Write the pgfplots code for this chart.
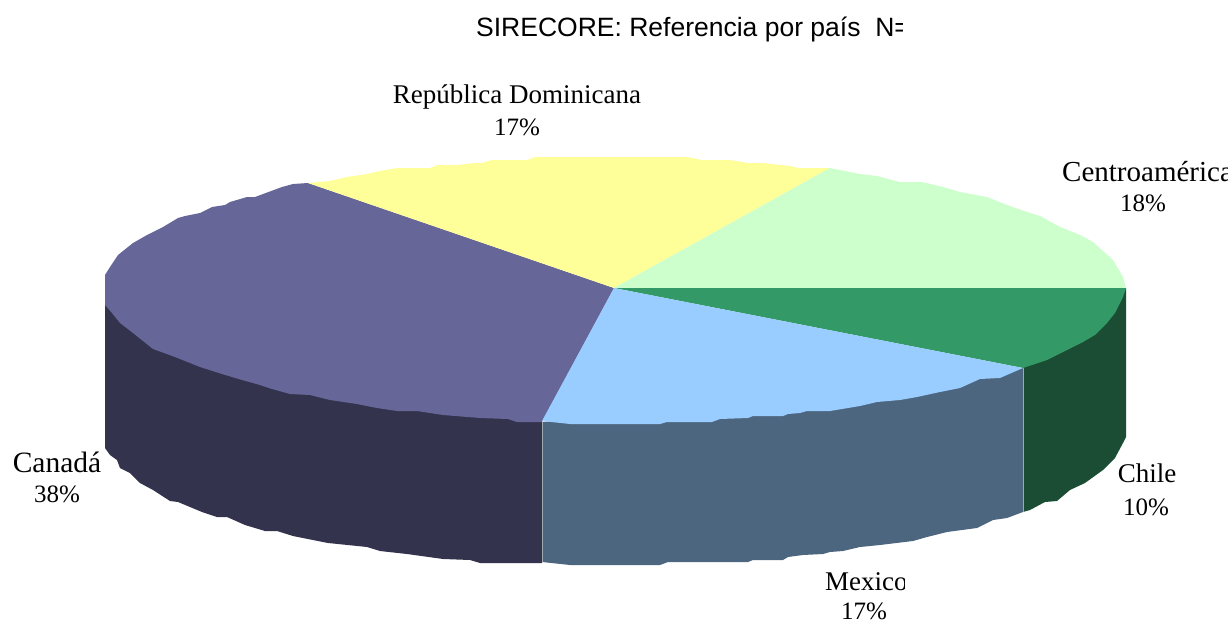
\documentclass[border=0pt]{standalone}
\usepackage{pgfplots}
\pgfplotsset{compat=1.18}
\usepackage{fontspec}
\setmainfont{Liberation Serif}
\newfontfamily\sansf{Liberation Sans}
\definecolor{cTopCan}{HTML}{666699}
\definecolor{cSideCan}{HTML}{33334D}
\definecolor{cYel}{HTML}{FFFF99}
\definecolor{cCen}{HTML}{CCFFCC}
\definecolor{cChi}{HTML}{339966}
\definecolor{cSideChi}{HTML}{1A4D33}
\definecolor{cMex}{HTML}{99CCFF}
\definecolor{cSideMex}{HTML}{4D6680}
\definecolor{cEdge}{HTML}{A0A8B0}
\newcommand{\lab}[1]{\fontsize{#1}{30}\selectfont}
\begin{document}
\begin{tikzpicture}
\useasboundingbox (0,0) rectangle (1232pt,621pt);
\clip (0,0) rectangle (1232pt,621pt);
\begin{axis}[at={(0pt,0pt)},anchor=south west,scale only axis,width=1232pt,height=621pt,
  xmin=0,xmax=1232,ymin=0,ymax=621,y dir=reverse,hide axis,clip=false]
% Canada side
\addplot[fill=cSideCan,draw=none] coordinates {(105,290)(105,448)(110,455)(117,460)(120,468)(130,473)(140,483)(153,490)(170,501)(178,502)(202,512)(217,517)(227,517)(245,525)(265,531)(277,531)(293,536)(328,543)(367,547)(380,551)(407,554)(443,559)(470,560)(480,563)(542,563)(542,422)(400,400)} -- cycle;
% Mexico side
\addplot[fill=cSideMex,draw=none] coordinates {(542,422)(542,562)(570,565)(660,565)(668,562)(748,562)(753,560)(783,560)(788,557)(803,555)(823,554)(830,552)(843,551)(860,547)(880,545)(913,541)(927,537)(947,532)(977,528)(993,520)(1007,518)(1023,512)(1023,368)(800,400)} -- cycle;
% Chile side
\addplot[fill=cSideChi,draw=none] coordinates {(1023,368)(1023,512)(1030,510)(1045,502)(1057,501)(1070,490)(1085,483)(1103,470)(1115,458)(1123,443)(1126,437)(1126,288)(1050,330)} -- cycle;
% edges
\addplot[cEdge,line width=0.7pt] coordinates {(542,422)(542,562)};
\addplot[cEdge,line width=0.7pt] coordinates {(1023,368)(1023,512)};
% Canada top
\addplot[fill=cTopCan,draw=none] coordinates {(614,288)(308,183)(293,184)(282,187)(255,197)(247,197)(230,202)(225,205)(212,207)(200,213)(185,216)(178,218)(163,227)(147,235)(133,243)(118,255)(110,267)(105,275)(105,305)(112,313)(120,323)(133,333)(153,349)(175,357)(200,367)(222,374)(242,380)(260,385)(272,389)(290,394)(310,395)(330,400)(357,404)(377,408)(397,411)(417,411)(443,415)(480,418)(508,419)(517,422)(542,422)} -- cycle;
% Dominican Republic top
\addplot[fill=cYel,draw=none] coordinates {(614,288)(308,183)(330,181)(347,177)(367,174)(380,171)(398,168)(430,168)(438,165)(458,165)(473,163)(482,163)(492,160)(527,160)(535,157)(687,157)(702,160)(730,160)(748,163)(763,163)(790,166)(798,168)(830,168)} -- cycle;
% Centroamerica top
\addplot[fill=cCen,draw=none] coordinates {(614,288)(830,168)(860,174)(877,176)(900,182)(922,182)(943,187)(960,192)(987,197)(1007,205)(1027,212)(1040,216)(1060,227)(1080,235)(1093,242)(1113,260)(1123,277)(1126,288)} -- cycle;
% Chile top
\addplot[fill=cChi,draw=none] coordinates {(614,288)(1126,288)(1123,297)(1115,313)(1107,323)(1095,335)(1083,342)(1067,350)(1047,360)(1023,368)} -- cycle;
% Mexico top
\addplot[fill=cMex,draw=none] coordinates {(614,288)(1023,368)(1000,378)(980,379)(960,388)(940,392)(917,397)(900,400)(877,402)(860,406)(830,411)(807,411)(800,413)(788,414)(783,416)(753,416)(748,418)(720,419)(712,422)(667,422)(660,424)(570,424)(542,421)} -- cycle;
% Labels
\node[font=\sansf\lab{26.5},anchor=west,inner sep=0pt] at (axis cs:476,29) {SIRECORE: Referencia por país\ \ N=};
\fill[white] (axis cs:903,8) rectangle (axis cs:940,50);
\node[font=\lab{27},inner sep=0pt] at (axis cs:517,97) {República Dominicana};
\node[font=\lab{25},inner sep=0pt] at (axis cs:517,127) {17\%};
\node[font=\lab{29},anchor=west,inner sep=0pt] at (axis cs:1062,172) {Centroamérica};
\node[font=\lab{25},inner sep=0pt] at (axis cs:1143,203) {18\%};
\node[font=\lab{29.5},inner sep=0pt] at (axis cs:57,462) {Canadá};
\node[font=\lab{25},inner sep=0pt] at (axis cs:57,494) {38\%};
\node[font=\lab{27},inner sep=0pt] at (axis cs:1147,473) {Chile};
\node[font=\lab{25},inner sep=0pt] at (axis cs:1146,507) {10\%};
\node[font=\lab{27},anchor=west,inner sep=0pt] at (axis cs:825,582) {Mexico};
\fill[white] (axis cs:905,568) rectangle (axis cs:925,598);
\node[font=\lab{25},inner sep=0pt] at (axis cs:864,611) {17\%};
\fill[white] (axis cs:1228,160) rectangle (axis cs:1232,190);
\end{axis}
\end{tikzpicture}
\end{document}
